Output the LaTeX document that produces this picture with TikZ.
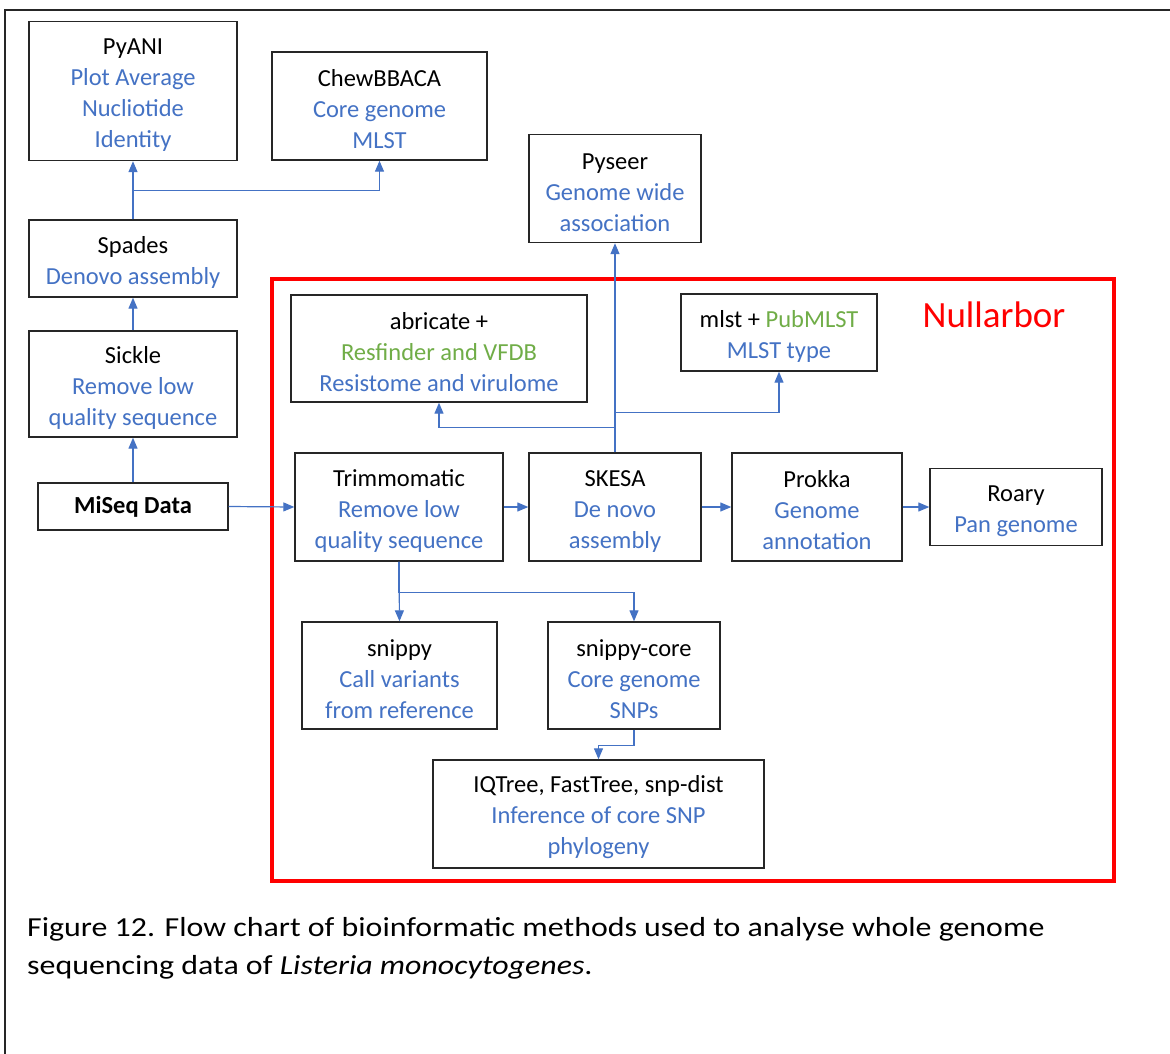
\documentclass[tikz,border=0pt]{standalone}
\usepackage{fontspec}
\setmainfont{Carlito}
\newfontfamily\capfont[FakeStretch=1.16]{Carlito}
\usetikzlibrary{arrows.meta}
\definecolor{myblue}{HTML}{4472C4}
\definecolor{mygreen}{HTML}{70AD47}
\definecolor{myred}{HTML}{FF0000}
\tikzset{
  box/.style={draw=black!85, line width=1.4pt, align=center, inner sep=0pt,
    font=\fontsize{24.5}{31}\selectfont},
  arr/.style={draw=myblue, line width=1.2pt, -{Triangle[length=11pt,width=9pt]}},
  captxt/.style={anchor=base west, inner sep=0pt, font=\capfont\fontsize{27.5}{38}\selectfont},
}
\newcommand{\bl}[1]{\textcolor{myblue}{#1}}
\newcommand{\gr}[1]{\textcolor{mygreen}{#1}}
\begin{document}
\begin{tikzpicture}[x=1pt,y=-1pt]
\useasboundingbox (0,0) rectangle (1170,1053);
\fill[white] (0,0) rectangle (1170,1053);
% outer frame
\draw[line width=2pt, black!85] (5,1060) -- (5,10) -- (1180,10);
% red Nullarbor box
\draw[myred, line width=4.5pt] (272,279) rectangle (1114,881);
\node[text=myred, font=\fontsize{37}{40}\selectfont] (nul) at (994,315) {Nullarbor};
% nodes
\node[box, minimum width=208pt, minimum height=139pt] (pyani) at (133,91)
  {\rule{0pt}{24pt}PyANI\\\bl{Plot Average}\\\bl{Nucliotide}\\\bl{Identity}};
\node[box, minimum width=215pt, minimum height=108pt] (chew) at (379.5,106)
  {\rule{0pt}{24pt}ChewBBACA\\\bl{Core genome}\\\bl{MLST}};
\node[box, minimum width=208pt, minimum height=77pt] (spades) at (133,258.5)
  {\rule{0pt}{24pt}Spades\\\bl{Denovo assembly}};
\node[box, minimum width=208pt, minimum height=106pt] (sickle) at (133,384)
  {\rule{0pt}{24pt}Sickle\\\bl{Remove low}\\\bl{quality sequence}};
\node[box, minimum width=190pt, minimum height=47pt] (miseq) at (133,506.5)
  {\bfseries MiSeq Data};
\node[box, minimum width=172pt, minimum height=108pt] (pyseer) at (615,188.5)
  {\rule{0pt}{24pt}Pyseer\\\bl{Genome wide}\\\bl{association}};
\node[box, minimum width=296pt, minimum height=107pt] (abricate) at (439,348.5)
  {\rule{0pt}{24pt}abricate +\\\gr{Resfinder and VFDB}\\\bl{Resistome and virulome}};
\node[box, minimum width=196pt, minimum height=77pt] (mlst) at (779,332.5)
  {\rule{0pt}{24pt}mlst + \gr{PubMLST}\\\bl{MLST type}};
\node[box, minimum width=208pt, minimum height=108pt] (trim) at (399,507)
  {\rule{0pt}{24pt}Trimmomatic\\\bl{Remove low}\\\bl{quality sequence}};
\node[box, minimum width=172pt, minimum height=108pt] (skesa) at (615,507)
  {\rule{0pt}{24pt}SKESA\\\bl{De novo}\\\bl{assembly}};
\node[box, minimum width=170pt, minimum height=108pt] (prokka) at (817,507)
  {\rule{0pt}{24pt}Prokka\\\bl{Genome}\\\bl{annotation}};
\node[box, minimum width=172pt, minimum height=77pt] (roary) at (1016,507)
  {\rule{0pt}{24pt}Roary\\\bl{Pan genome}};
\node[box, minimum width=195pt, minimum height=107pt] (snippy) at (399.5,675.5)
  {\rule{0pt}{24pt}snippy\\\bl{Call variants}\\\bl{from reference}};
\node[box, minimum width=172pt, minimum height=107pt] (score) at (634,675.5)
  {\rule{0pt}{24pt}snippy-core\\\bl{Core genome}\\\bl{SNPs}};
\node[box, minimum width=331pt, minimum height=108pt] (iq) at (598.5,814)
  {\rule{0pt}{24pt}IQTree, FastTree, snp-dist\\\bl{Inference of core SNP}\\\bl{phylogeny}};
% connectors
\draw[arr] (miseq.north) -- (sickle.south);
\draw[arr] (sickle.north) -- (spades.south);
\draw[arr] (spades.north) -- (pyani.south);
\draw[arr] (spades.north) -- ++(0,-29) -| (chew.south);
\draw[arr] (miseq.east) -- (trim.west);
\draw[arr] (trim.east) -- (skesa.west);
\draw[arr] (skesa.east) -- (prokka.west);
\draw[arr] (prokka.east) -- (roary.west);
\draw[arr] (skesa.north) -- (pyseer.south);
\draw[arr] (skesa.north) -- ++(0,-25) -| (abricate.south);
\draw[arr] (skesa.north) -- ++(0,-40) -| (mlst.south);
\draw[arr] (trim.south) -- (snippy.north);
\draw[arr] (trim.south) -- ++(0,31) -| (score.north);
\draw[arr] (score.south) -- ++(0,16) -| (iq.north);
% caption
\node[captxt] (cap1) at (27,936)
  {Figure 12. Flow chart of bioinformatic methods used to analyse whole genome};
\node[captxt] (cap2) at (27,974)
  {sequencing data of \textit{Listeria monocytogenes}.};
\end{tikzpicture}
\end{document}
